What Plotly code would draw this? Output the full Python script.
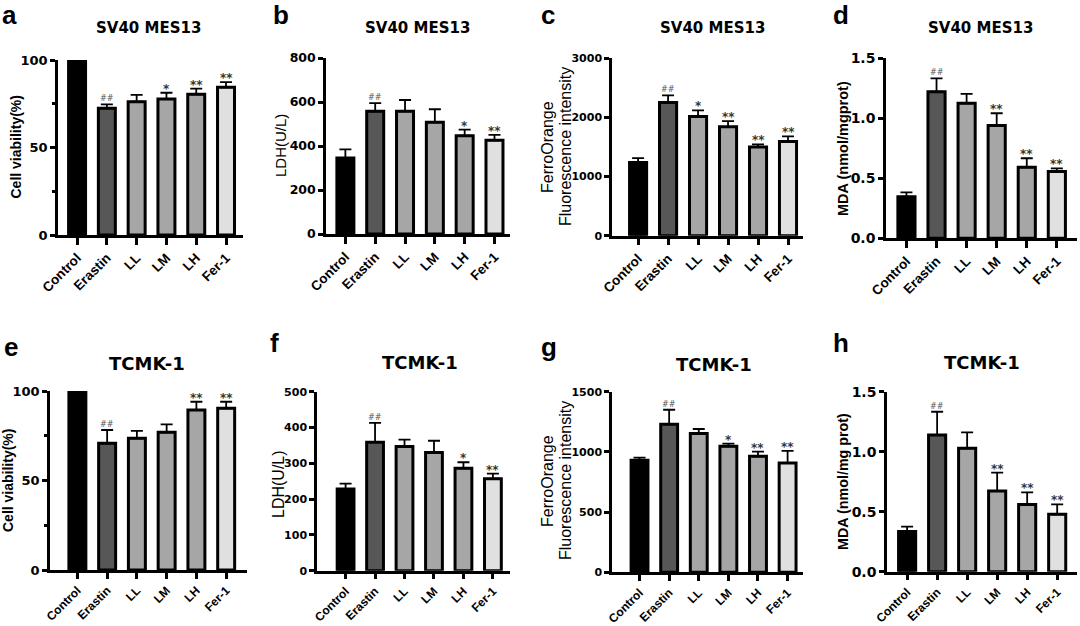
import plotly.graph_objects as go

W, H = 1080, 626

categories = ["Control", "Erastin", "LL", "LM", "LH", "Fer-1"]
bar_colors = ["#000000", "#575757", "#a6a6a6", "#a6a6a6", "#a6a6a6", "#e0e0e0"]

# Panel a: SV40 MES13 cell viability
a_mean = [100, 72.4, 76.2, 77.7, 80.4, 84.4]
a_err = [0, 2.3, 3.9, 3.6, 3.2, 3.0]
a_sig = ["", "##", "", "*", "**", "**"]
# Panel b: SV40 MES13 LDH
b_mean = [346, 558, 558, 508, 447, 426]
b_err = [39, 37, 51, 59, 27, 25]
b_sig = ["", "##", "", "", "*", "**"]
# Panel c: SV40 MES13 FerroOrange
c_mean = [1237, 2254, 2017, 1842, 1498, 1593]
c_err = [75, 119, 102, 95, 45, 85]
c_sig = ["", "##", "*", "**", "**", "**"]
# Panel d: SV40 MES13 MDA
d_mean = [0.347, 1.222, 1.125, 0.939, 0.592, 0.556]
d_err = [0.036, 0.111, 0.078, 0.103, 0.075, 0.027]
d_sig = ["", "##", "", "**", "**", "**"]
# Panel e: TCMK-1 cell viability
e_mean = [100, 70.8, 73.6, 76.9, 89.4, 90.3]
e_err = [0, 7.4, 4.1, 4.5, 4.6, 3.7]
e_sig = ["", "##", "", "", "**", "**"]
# Panel f: TCMK-1 LDH
f_mean = [228, 359, 347, 330, 286, 257]
f_err = [15, 54, 19, 33, 17, 14]
f_sig = ["", "##", "", "", "*", "**"]
# Panel g: TCMK-1 FerroOrange
g_mean = [930, 1229, 1152, 1046, 964, 908]
g_err = [23, 121, 38, 23, 39, 100]
g_sig = ["", "##", "", "*", "**", "**"]
# Panel h: TCMK-1 MDA
h_mean = [0.336, 1.139, 1.028, 0.672, 0.561, 0.478]
h_err = [0.039, 0.194, 0.133, 0.153, 0.100, 0.083]
h_sig = ["", "##", "", "**", "**", "**"]

titles = ["SV40 MES13"] * 4 + ["TCMK-1"] * 4
letters = ["a", "b", "c", "d", "e", "f", "g", "h"]
y_ticks = [
    [0, 50, 100], [0, 200, 400, 600, 800], [0, 1000, 2000, 3000], [0, 0.5, 1.0, 1.5],
    [0, 50, 100], [0, 100, 200, 300, 400, 500], [0, 500, 1000, 1500], [0, 0.5, 1.0, 1.5],
]
y_ticktext = [
    ["0", "50", "100"], ["0", "200", "400", "600", "800"], ["0", "1000", "2000", "3000"],
    ["0.0", "0.5", "1.0", "1.5"],
    ["0", "50", "100"], ["0", "100", "200", "300", "400", "500"], ["0", "500", "1000", "1500"],
    ["0.0", "0.5", "1.0", "1.5"],
]
y_max = [100, 800, 3000, 1.5, 100, 500, 1500, 1.5]

means = [a_mean, b_mean, c_mean, d_mean, e_mean, f_mean, g_mean, h_mean]
errs = [a_err, b_err, c_err, d_err, e_err, f_err, g_err, h_err]
sigs = [a_sig, b_sig, c_sig, d_sig, e_sig, f_sig, g_sig, h_sig]

# layout geometry (pixels): left, right, top, bottom of each plot area
boxes = [
    (58, 243, 60, 235), (326, 510, 58, 234), (612, 803, 58.3, 235.7), (886, 1077, 58.3, 238.3),
    (50, 247, 391, 570), (317, 510, 391.7, 570.7), (612, 803, 391.7, 572.3), (887, 1077, 391.7, 571.7),
]
x_ranges = [
    [-0.64, 5.57], [-0.65, 5.52], [-0.87, 5.5], [-0.68, 5.67],
    [-0.92, 5.7], [-0.97, 5.58], [-0.93, 5.52], [-0.67, 5.66],
]
ytick_sizes = [13, 12.5, 11, 14, 13, 11, 11, 14]
xtick_sizes = [13.5, 13.5, 13.5, 13.5, 12, 12, 12, 12]
xtick_lens = [7, 7, 7, 7, 6, 6, 6, 6]

def px(x):
    return x / W

def py(y):
    return 1 - y / H

fig = go.Figure()
layout = dict(
    width=W, height=H, margin=dict(l=0, r=0, t=0, b=0, autoexpand=False),
    paper_bgcolor="white", plot_bgcolor="white", showlegend=False,
)
annotations = []

for i in range(8):
    n = "" if i == 0 else str(i + 1)
    l, r, t, b = boxes[i]
    fig.add_trace(go.Bar(
        x=categories, y=means[i],
        xaxis="x" + n, yaxis="y" + n,
        width=0.57,
        marker=dict(color=bar_colors, line=dict(color="black", width=3)),
        error_y=dict(type="data", symmetric=False, array=errs[i], arrayminus=[0] * 6,
                     color="black", thickness=1.8, width=6),
        hoverinfo="x+y",
    ))
    xa = dict(
        domain=[px(l), px(r)], anchor="y" + n, type="category", range=x_ranges[i],
        automargin=False,
        showline=True, linecolor="black", linewidth=2.5, showgrid=False, zeroline=False,
        ticks="outside", ticklen=xtick_lens[i], tickwidth=2.5, tickcolor="black",
        tickangle=-45,
        tickfont=dict(family="Liberation Sans, Arial", size=xtick_sizes[i], color="black",
                      weight="bold"),
    )
    ya = dict(
        domain=[py(b), py(t)], anchor="x" + n, range=[0, y_max[i]],
        automargin=False,
        showline=True, linecolor="black", linewidth=2.5, showgrid=False, zeroline=False,
        ticks="outside", ticklen=5, tickwidth=2.5, tickcolor="black",
        tickmode="array", tickvals=y_ticks[i], ticktext=y_ticktext[i],
        tickfont=dict(family="DejaVu Sans", size=ytick_sizes[i], color="black", weight="bold"),
    )
    if i in (0, 4):
        ya["minor"] = dict(tickmode="array", tickvals=[25, 75], ticks="outside",
                           ticklen=3, tickwidth=2.5, tickcolor="black", showgrid=False)
    layout["xaxis" + n] = xa
    layout["yaxis" + n] = ya

    # significance marks
    for j, s in enumerate(sigs[i]):
        if not s:
            continue
        is_hash = s.startswith("#")
        annotations.append(dict(
            xref="x" + n, yref="y" + n, x=categories[j], y=means[i][j] + errs[i][j],
            text=s, showarrow=False, xanchor="center", yanchor="bottom",
            yshift=-1 if is_hash else -5, opacity=0.99,
            font=dict(family="DejaVu Sans", size=8 if is_hash else 12,
                      color="#555555" if is_hash else "#333333",
                      weight="normal" if is_hash else "bold"),
        ))

# panel titles
title_pos = [(148, 28, 15), (417, 28, 15), (712, 28, 15), (980, 28, 15),
             (147, 363, 18), (420, 362, 18), (714, 364, 18), (982, 362, 18)]
for i in range(8):
    x, y, s = title_pos[i]
    annotations.append(dict(
        xref="paper", yref="paper", x=px(x), y=py(y), text=titles[i], showarrow=False,
        xanchor="center", yanchor="middle",
        font=dict(family="DejaVu Sans", size=s, color="black", weight="bold"),
    ))

# panel letters
letter_pos = [(0, -2), (271, -2), (539, -2), (831, -2), (2, 330), (268, 326), (539, 330), (831, 326)]
for i in range(8):
    x, y = letter_pos[i]
    annotations.append(dict(
        xref="paper", yref="paper", x=px(x), y=py(y), text=letters[i], showarrow=False,
        xanchor="left", yanchor="top",
        font=dict(family="Liberation Sans, Arial", size=26, color="black", weight="bold"),
    ))

# y-axis titles
ytitles = [
    ("Cell viability(%)", 15, 147.5, 14, "bold"),
    ("LDH(U/L)", 280, 146, 15, "normal"),
    ("FerroOrange", 547, 147, 16, "normal"),
    ("Fluorescence intensity", 565, 147, 16, "normal"),
    ("MDA (nmol/mgprot)", 843, 149, 14.5, "bold"),
    ("Cell viability(%)", 8, 481, 14, "bold"),
    ("LDH(U/L)", 278, 484, 16, "normal"),
    ("FerroOrange", 547, 481, 16, "normal"),
    ("Fluorescence intensity", 565, 481, 16, "normal"),
    ("MDA (nmol/mg prot)", 843, 482, 14.3, "bold"),
]
for text, x, y, s, wgt in ytitles:
    annotations.append(dict(
        xref="paper", yref="paper", x=px(x), y=py(y), text=text, showarrow=False,
        textangle=-90, xanchor="center", yanchor="middle",
        font=dict(family="Liberation Sans, Arial", size=s, color="black", weight=wgt),
    ))

layout["annotations"] = annotations
fig.update_layout(**layout)
fig.write_html(
    "out.html",
    config={"displayModeBar": False},
    post_script="document.body.style.margin='0px';document.body.style.overflow='hidden';",
)
